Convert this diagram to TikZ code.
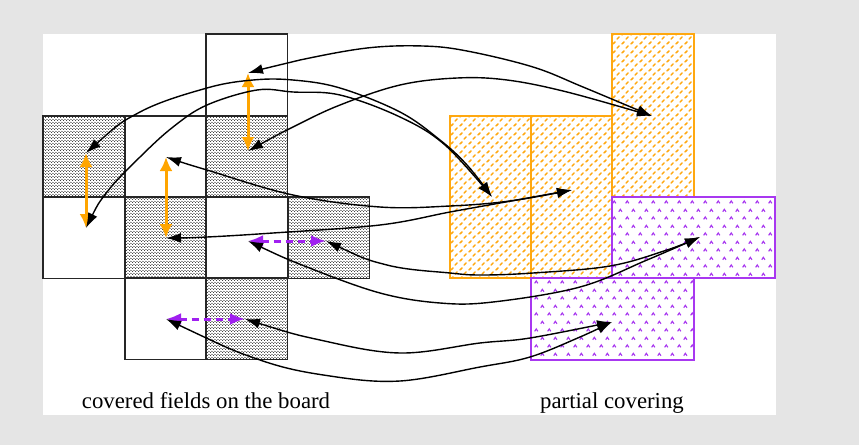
\documentclass[tikz,border=0pt]{standalone}
\usepackage{fontspec}
\setmainfont{Liberation Serif}
\usetikzlibrary{arrows.meta,patterns.meta}
\definecolor{bggray}{HTML}{E5E5E5}
\definecolor{orA}{HTML}{FFA500}
\definecolor{orB}{HTML}{FFA810}
\definecolor{puA}{HTML}{A020F0}
\definecolor{puB}{HTML}{A838F0}
\tikzdeclarepattern{
  name=grdots, type=colored,
  bottom left={(0pt,0pt)}, top right={(3pt,3pt)}, tile size={(3pt,3pt)},
  code={\fill[black] (0.75pt,0.75pt) circle (0.6pt); \fill[black] (2.25pt,2.25pt) circle (0.6pt);}
}
\tikzdeclarepattern{
  name=ordash, type=colored,
  bottom left={(0pt,0pt)}, top right={(9pt,9pt)}, tile size={(9pt,9pt)},
  code={\draw[orB,line width=1.7pt,line cap=round] (1.1pt,5.6pt) -- (3.4pt,7.9pt);
        \draw[orB,line width=1.7pt,line cap=round] (5.6pt,1.1pt) -- (7.9pt,3.4pt);}
}
\tikzdeclarepattern{
  name=pucaret, type=colored,
  bottom left={(0pt,0pt)}, top right={(13pt,16pt)}, tile size={(13pt,16pt)},
  code={\foreach \cx/\cy in {3.5/4, 10/12}{
          \draw[puB,line width=1.2pt] (\cx pt-1.7pt,\cy pt-1.2pt) -- (\cx pt,\cy pt+1.3pt) -- (\cx pt+1.7pt,\cy pt-1.2pt);}}
}
\tikzset{
  cellline/.style={draw=black!85, line width=1.4pt},
  graycell/.style={pattern=grdots},
  orrect/.style={draw=orB, line width=1.8pt, pattern=ordash},
  purect/.style={draw=puB, line width=1.8pt, pattern=pucaret},
  link/.style={black, line width=1.4pt, {Latex[length=15pt,width=10pt]}-{Latex[length=15pt,width=10pt]}},
  swapo/.style={orA, line width=3pt, {Latex[length=14pt,width=13pt]}-{Latex[length=14pt,width=13pt]}},
  swapp/.style={puA, line width=3pt, dash pattern=on 7pt off 5pt, {Latex[length=15pt,width=12pt]}-{Latex[length=15pt,width=12pt]}},
  caption/.style={anchor=base, inner sep=0pt, font=\fontsize{22.8}{26}\selectfont},
  sm/.style={smooth, tension=0.6}
}
\begin{document}
\begin{tikzpicture}[x=1pt,y=-1pt]
\useasboundingbox (0,0) rectangle (859,445);
\fill[bggray] (0,0) rectangle (859,445);
\fill[white] (43,34) rectangle (776,415);
% board cells
\foreach \x/\y in {43/116, 206/116, 125/197, 288/197, 206/278}
  \fill[graycell] (\x,\y) rectangle ++(81.5,81.5);
\foreach \x/\y in {206/34, 43/116, 125/116, 206/116, 43/197, 125/197, 206/197, 288/197, 125/278, 206/278}
  \draw[cellline] (\x,\y) rectangle ++(81.5,81.5);
% partial covering
\draw[orrect] (450,116) rectangle (531,278);
\draw[orrect] (531,116) rectangle (612,278);
\draw[orrect] (612,34) rectangle (694,197);
\draw[purect] (612,197) rectangle (775,278);
\draw[purect] (531,278) rectangle (694,360);
% end points
\coordinate (o1t) at (248,73);
\coordinate (o1b) at (248,151);
\coordinate (o2t) at (86,153);
\coordinate (o2b) at (86,228);
\coordinate (o3t) at (166,157);
\coordinate (o3b) at (166,238);
\coordinate (p4l) at (248,241);
\coordinate (p4r) at (326,241);
\coordinate (p5l) at (166,319);
\coordinate (p5r) at (245,319);
\coordinate (tA) at (652,116);
\coordinate (tB) at (492,197);
\coordinate (tC) at (572,190);
\coordinate (tD) at (700,237);
\coordinate (tE) at (612,322);
% swaps on the board
\draw[swapo] (o1t) -- (o1b);
\draw[swapo] (o2t) -- (o2b);
\draw[swapo] (o3t) -- (o3b);
\draw[swapp] (p4l) -- (p4r);
\draw[swapp] (p5l) -- (p5r);
% links
\draw[link] plot[sm] coordinates {(o1t) (300,60) (367,48) (423,46) (467,51) (533,67) (583,87) (tA)};
\draw[link] plot[sm] coordinates {(o1b) (293,127) (340,105) (400,85) (457,78) (507,80) (567,92) (tA)};
\draw[link] plot[sm] coordinates {(o2t) (140,112) (207,88) (253,80) (293,80) (340,88) (400,112) (440,140) (467,165) (tB)};
\draw[link] plot[sm] coordinates {(o2b) (107,192) (140,157) (173,127) (207,105) (257,90) (293,92) (340,95) (400,117) (445,145) (tB)};
\draw[link] plot[sm] coordinates {(o3t) (207,170) (293,195) (380,207) (450,206) (510,201) (tC)};
\draw[link] plot[sm] coordinates {(o3b) (207,237) (273,233) (380,225) (450,212) (500,203) (tC)};
\draw[link] plot[sm] coordinates {(p4l) (307,267) (380,293) (440,303) (493,302) (580,287) (647,260) (tD)};
\draw[link] plot[sm] coordinates {(p4r) (387,265) (450,273) (482,275) (533,273) (610,266) (667,250) (tD)};
\draw[link] plot[sm] coordinates {(p5l) (260,360) (330,376) (400,381) (480,367) (530,357) (580,337) (tE)};
\draw[link] plot[sm] coordinates {(p5r) (320,340) (400,353) (480,343) (530,338) (tE)};
% captions
\node[caption] (capL) at (206,408) {covered fields on the board};
\node[caption] (capR) at (612,408) {partial covering};
\end{tikzpicture}
\end{document}
